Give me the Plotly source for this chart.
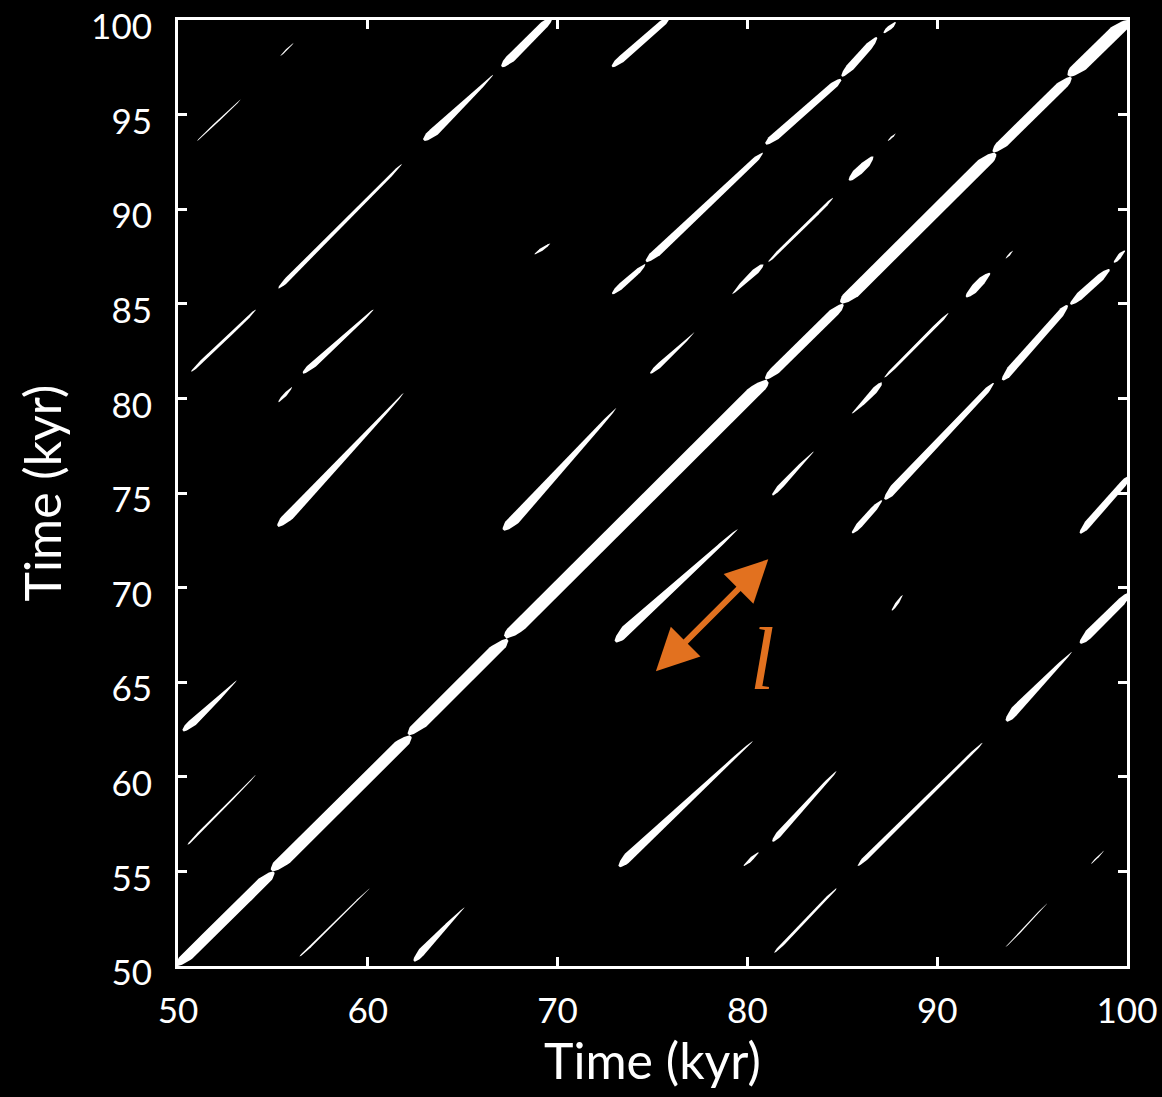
import numpy as np
import plotly.graph_objects as go

# Recurrence segments above the main diagonal (the plot is symmetric, so each
# segment is mirrored below it). Times in kyr; band widths in kyr (horizontal).
seg_x0 = [55.4, 51.0, 55.3, 63.0, 50.7, 56.6, 55.3, 55.3, 67.1, 72.9, 68.8, 81.0,
          85.0, 87.2, 74.7, 72.9, 79.2, 81.1, 85.4, 87.4, 74.9, 67.2, 50.3, 50.5]
seg_y0 = [98.1, 93.6, 85.8, 93.6, 81.4, 81.3, 79.8, 73.2, 97.5, 97.5, 87.6, 93.4,
          97.0, 99.3, 87.2, 85.5, 85.5, 87.2, 91.5, 93.6, 81.3, 73.0, 62.4, 56.4]
seg_x1 = [56.1, 53.3, 61.8, 66.6, 54.1, 60.3, 56.0, 61.9, 69.7, 75.9, 69.6, 84.9,
          86.8, 87.8, 80.8, 74.6, 80.8, 84.5, 86.6, 87.8, 77.2, 73.1, 53.1, 54.1]
seg_y1 = [98.8, 95.8, 92.4, 97.1, 84.7, 84.7, 80.6, 80.3, 100.2, 100.2, 88.2, 96.9,
          99.1, 99.9, 93.0, 87.1, 87.1, 90.6, 92.8, 94.0, 83.5, 79.5, 65.1, 60.1]
seg_w0 = [0.16, 0.14, 0.40, 0.80, 0.28, 0.55, 0.30, 0.75, 0.72, 0.62, 0.34, 0.68,
          0.60, 0.40, 0.68, 0.55, 0.20, 0.25, 0.68, 0.16, 0.48, 0.85, 0.72, 0.22]
seg_w1 = [0.10, 0.12, 0.20, 0.16, 0.22, 0.20, 0.24, 0.14, 0.60, 0.55, 0.28, 0.60,
          0.55, 0.34, 0.42, 0.42, 0.60, 0.25, 0.55, 0.16, 0.14, 0.14, 0.12, 0.10]

# Main diagonal (line of identity), split at its narrow necks
diag_breaks = [50.0, 55.0, 62.2, 67.3, 81.0, 85.0, 93.0, 97.0, 100.0]
diag_w = [0.80, 0.90, 0.85, 0.95, 0.72, 0.92, 0.78, 1.00]

x_ticks = [50, 60, 70, 80, 90, 100]
y_ticks = [50, 55, 60, 65, 70, 75, 80, 85, 90, 95, 100]

ORANGE = "#E2711F"


def band(x0, y0, x1, y1, w0, w1, n=80):
    """Closed outline of a tapered recurrence band between two time points."""
    t = np.linspace(0.0, 1.0, n)
    length = max(abs(x1 - x0), 1e-6)
    s = t * length
    e = min(0.45, length / 2)
    taper = np.minimum(1.0, np.minimum(np.sqrt(np.clip(s / e, 0, None)),
                                       np.sqrt(np.clip((length - s) / e, 0, None))))
    hw = (w0 + (w1 - w0) * t) / 2 * taper
    cx = x0 + t * (x1 - x0)
    cy = y0 + t * (y1 - y0)
    px = np.concatenate([cx - hw, (cx + hw)[::-1], [cx[0] - hw[0]]])
    py = np.concatenate([cy, cy[::-1], [cy[0]]])
    return px, py


fig = go.Figure()


def add_band(px, py):
    fig.add_trace(go.Scatter(x=px, y=py, mode="lines", fill="toself",
                             fillcolor="white", line=dict(width=0, color="white"),
                             hoverinfo="skip", showlegend=False))


for a, b, w in zip(diag_breaks[:-1], diag_breaks[1:], diag_w):
    px, py = band(a, a, b, b, w, w)
    add_band(px, py)

for x0, y0, x1, y1, w0, w1 in zip(seg_x0, seg_y0, seg_x1, seg_y1, seg_w0, seg_w1):
    px, py = band(x0, y0, x1, y1, w0, w1)
    add_band(px, py)          # above the diagonal
    add_band(py, px)          # mirrored below it

# Recurrence length indicator
fig.add_annotation(x=81.1, y=71.5, ax=75.1, ay=65.5, xref="x", yref="y",
                   axref="x", ayref="y", text="", showarrow=True,
                   arrowhead=2, startarrowhead=2, arrowside="end+start",
                   arrowsize=1.4, startarrowsize=1.4, arrowwidth=6,
                   arrowcolor=ORANGE)
fig.add_annotation(x=80.75, y=66.2, xref="x", yref="y", text="<i>l</i>",
                   showarrow=False,
                   font=dict(family="Liberation Serif", size=88, color=ORANGE))

axis_common = dict(range=[50, 100], showgrid=False, zeroline=False,
                   showline=True, linecolor="white", linewidth=3, mirror="ticks",
                   ticks="inside", ticklen=9, tickwidth=3, tickcolor="white",
                   ticklabeloverflow="allow", automargin=False,
                   tickfont=dict(family="Lato", size=35, color="white"),
                   title_font=dict(family="Lato", size=50, color="white"))

fig.update_xaxes(**axis_common, tickvals=x_ticks,
                 ticktext=[str(v) for v in x_ticks],
                 title_text="Time (kyr)", title_standoff=14,
                 ticklabelstandoff=12)
fig.update_yaxes(**axis_common, tickvals=y_ticks,
                 ticktext=[str(v) for v in y_ticks],
                 title_text="Time (kyr)", title_standoff=14,
                 ticklabelstandoff=16, ticklabelshift=7)

fig.update_layout(width=1162, height=1097,
                  margin=dict(l=178, r=35, t=20, b=131),
                  paper_bgcolor="black", plot_bgcolor="black",
                  showlegend=False)

fig.write_html("out.html")
